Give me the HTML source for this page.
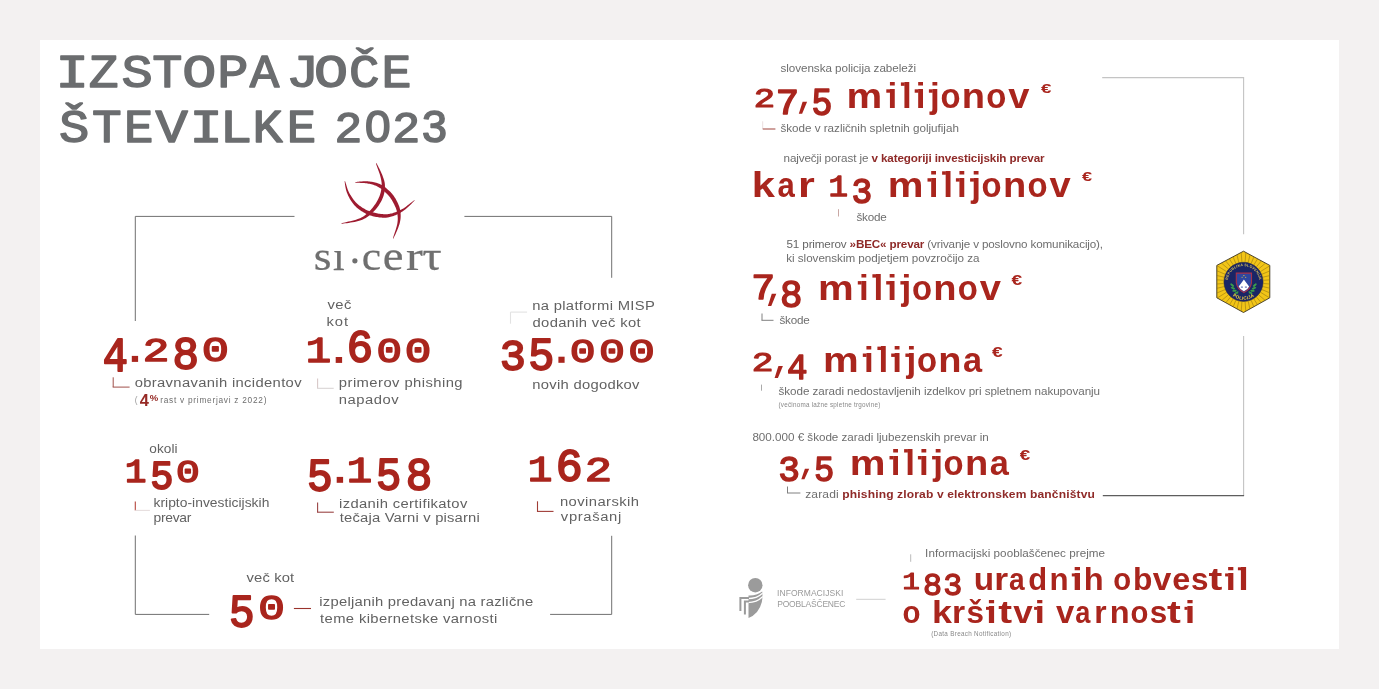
<!DOCTYPE html>
<html><head><meta charset="utf-8"><title>Izstopajoče številke 2023</title>
<style>
html,body{margin:0;padding:0;background:#f3f1f1;}
body{width:1379px;height:689px;overflow:hidden;font-family:"Liberation Sans",sans-serif;}
svg{display:block;}
#wrap{width:1379px;height:689px;will-change:transform;transform:translateZ(0);}
text{white-space:pre;}
</style></head><body>
<div id="wrap"><svg width="1379" height="689" viewBox="0 0 1379 689">
<rect x="0" y="0" width="1379" height="689" fill="#f3f1f1"/>
<rect x="40" y="40" width="1299" height="609" fill="#ffffff"/>
<text stroke="#6b6d6f" stroke-width="1.4" stroke-linejoin="round" transform="matrix(1.2039 0 0 1 55.40 86.70)" font-family="Liberation Mono" font-weight="normal" font-size="46.3" fill="#6b6d6f">I</text>
<text stroke="#6b6d6f" stroke-width="1.4" stroke-linejoin="round" transform="matrix(1.0711 0 0 1 88.63 86.70)" font-family="Liberation Mono" font-weight="normal" font-size="46.3" fill="#6b6d6f">Z</text>
<text stroke="#6b6d6f" stroke-width="1.4" stroke-linejoin="round" transform="matrix(1.1259 0 0 1 121.39 86.70)" font-family="Liberation Mono" font-weight="normal" font-size="46.3" fill="#6b6d6f">S</text>
<text stroke="#6b6d6f" stroke-width="1.4" stroke-linejoin="round" transform="matrix(1.0853 0 0 1 152.34 86.70)" font-family="Liberation Mono" font-weight="normal" font-size="46.3" fill="#6b6d6f">T</text>
<text stroke="#6b6d6f" stroke-width="1.4" stroke-linejoin="round" transform="matrix(1.2268 0 0 1 182.37 86.70)" font-family="Liberation Mono" font-weight="normal" font-size="46.3" fill="#6b6d6f">O</text>
<text stroke="#6b6d6f" stroke-width="1.4" stroke-linejoin="round" transform="matrix(1.1232 0 0 1 217.29 86.70)" font-family="Liberation Mono" font-weight="normal" font-size="46.3" fill="#6b6d6f">P</text>
<text stroke="#6b6d6f" stroke-width="1.4" stroke-linejoin="round" transform="matrix(1.0626 0 0 1 249.80 86.70)" font-family="Liberation Mono" font-weight="normal" font-size="46.3" fill="#6b6d6f">A</text>
<text stroke="#6b6d6f" stroke-width="1.4" stroke-linejoin="round" transform="matrix(1.2268 0 0 1 313.97 86.70)" font-family="Liberation Mono" font-weight="normal" font-size="46.3" fill="#6b6d6f">O</text>
<text stroke="#6b6d6f" stroke-width="1.4" stroke-linejoin="round" transform="matrix(1.1005 0 0 1 349.09 86.70)" font-family="Liberation Mono" font-weight="normal" font-size="46.3" fill="#6b6d6f">Č</text>
<text stroke="#6b6d6f" stroke-width="1.4" stroke-linejoin="round" transform="matrix(1.0782 0 0 1 381.45 86.70)" font-family="Liberation Mono" font-weight="normal" font-size="46.3" fill="#6b6d6f">E</text>
<text stroke="#6b6d6f" stroke-width="2.6" stroke-linejoin="round" transform="matrix(0.5632 0 0 0.4557 285.77 87.20)" font-family="Liberation Mono" font-weight="normal" font-size="100" fill="#6b6d6f">J</text>
<text stroke="#6b6d6f" stroke-width="1.4" stroke-linejoin="round" transform="matrix(1.0921 0 0 1 58.95 141.90)" font-family="Liberation Mono" font-weight="normal" font-size="46.3" fill="#6b6d6f">Š</text>
<text stroke="#6b6d6f" stroke-width="1.4" stroke-linejoin="round" transform="matrix(1.0688 0 0 1 92.06 141.90)" font-family="Liberation Mono" font-weight="normal" font-size="46.3" fill="#6b6d6f">T</text>
<text stroke="#6b6d6f" stroke-width="1.4" stroke-linejoin="round" transform="matrix(1.0598 0 0 1 124.02 141.90)" font-family="Liberation Mono" font-weight="normal" font-size="46.3" fill="#6b6d6f">E</text>
<text stroke="#6b6d6f" stroke-width="1.4" stroke-linejoin="round" transform="matrix(1.1644 0 0 1 155.44 141.90)" font-family="Liberation Mono" font-weight="normal" font-size="46.3" fill="#6b6d6f">V</text>
<text stroke="#6b6d6f" stroke-width="1.4" stroke-linejoin="round" transform="matrix(1.1985 0 0 1 189.53 141.90)" font-family="Liberation Mono" font-weight="normal" font-size="46.3" fill="#6b6d6f">I</text>
<text stroke="#6b6d6f" stroke-width="1.4" stroke-linejoin="round" transform="matrix(1.1686 0 0 1 219.74 141.90)" font-family="Liberation Mono" font-weight="normal" font-size="46.3" fill="#6b6d6f">L</text>
<text stroke="#6b6d6f" stroke-width="1.4" stroke-linejoin="round" transform="matrix(1.0840 0 0 1 252.43 141.90)" font-family="Liberation Mono" font-weight="normal" font-size="46.3" fill="#6b6d6f">K</text>
<text stroke="#6b6d6f" stroke-width="1.4" stroke-linejoin="round" transform="matrix(1.0598 0 0 1 286.72 141.90)" font-family="Liberation Mono" font-weight="normal" font-size="46.3" fill="#6b6d6f">E</text>
<text stroke="#6b6d6f" stroke-width="3.4" stroke-linejoin="round" transform="matrix(0.4632 0 0 0.4297 335.57 141.90)" font-family="Liberation Sans" font-weight="normal" font-size="100" fill="#6b6d6f">2</text>
<text stroke="#6b6d6f" stroke-width="3.4" stroke-linejoin="round" transform="matrix(0.4602 0 0 0.4364 364.90 141.97)" font-family="Liberation Sans" font-weight="normal" font-size="100" fill="#6b6d6f">0</text>
<text stroke="#6b6d6f" stroke-width="3.4" stroke-linejoin="round" transform="matrix(0.4675 0 0 0.4297 393.25 141.90)" font-family="Liberation Sans" font-weight="normal" font-size="100" fill="#6b6d6f">2</text>
<text stroke="#6b6d6f" stroke-width="3.4" stroke-linejoin="round" transform="matrix(0.4493 0 0 0.4364 422.09 141.97)" font-family="Liberation Sans" font-weight="normal" font-size="100" fill="#6b6d6f">3</text>
<polyline points="135.3,321 135.3,216.4 294.5,216.4" fill="none" stroke="#707070" stroke-width="1.0"/>
<polyline points="464.4,216.4 611.7,216.4 611.7,277.8" fill="none" stroke="#707070" stroke-width="1.0"/>
<polyline points="135.3,535.5 135.3,614.4 209.2,614.4" fill="none" stroke="#707070" stroke-width="1.0"/>
<polyline points="550.1,614.4 611.7,614.4 611.7,535.8" fill="none" stroke="#707070" stroke-width="1.0"/>
<path d="M375.96,163.16 L376.10,163.84 L376.36,164.68 L376.69,165.65 L377.08,166.74 L377.51,167.91 L377.96,169.14 L378.43,170.40 L378.88,171.67 L379.32,172.92 L379.71,174.11 L380.05,175.23 L380.33,176.24 L380.56,177.19 L380.78,178.11 L380.97,178.98 L381.15,179.83 L381.31,180.65 L381.43,181.45 L381.54,182.24 L381.62,183.02 L381.67,183.80 L381.69,184.60 L381.68,185.41 L381.64,186.25 L381.57,187.13 L381.47,188.03 L381.35,188.95 L381.21,189.87 L381.04,190.80 L380.84,191.74 L380.61,192.68 L380.36,193.62 L380.07,194.56 L379.75,195.50 L379.39,196.43 L379.01,197.36 L378.58,198.30 L378.11,199.26 L377.60,200.23 L377.05,201.21 L376.48,202.20 L375.87,203.18 L375.23,204.16 L374.56,205.12 L373.88,206.07 L373.16,206.99 L372.43,207.89 L371.68,208.77 L370.90,209.64 L370.11,210.51 L369.32,211.36 L368.52,212.19 L367.69,213.00 L366.84,213.79 L365.94,214.56 L365.01,215.30 L364.02,216.01 L362.97,216.69 L361.85,217.35 L360.66,217.96 L359.31,218.55 L357.75,219.12 L356.01,219.67 L354.16,220.19 L352.25,220.69 L350.32,221.16 L348.43,221.60 L346.63,222.01 L344.96,222.40 L343.48,222.77 L342.23,223.11 L341.27,223.45 L341.33,223.75 L342.34,223.68 L343.62,223.54 L345.13,223.35 L346.83,223.13 L348.67,222.88 L350.60,222.58 L352.58,222.25 L354.56,221.88 L356.48,221.48 L358.32,221.04 L360.02,220.56 L361.54,220.04 L362.90,219.47 L364.18,218.86 L365.39,218.20 L366.54,217.50 L367.63,216.77 L368.66,216.01 L369.65,215.22 L370.60,214.41 L371.52,213.58 L372.40,212.74 L373.27,211.89 L374.12,211.03 L374.98,210.13 L375.82,209.19 L376.63,208.21 L377.41,207.21 L378.16,206.19 L378.88,205.16 L379.57,204.11 L380.21,203.05 L380.82,202.00 L381.39,200.94 L381.91,199.89 L382.39,198.84 L382.83,197.79 L383.22,196.73 L383.57,195.67 L383.88,194.61 L384.15,193.54 L384.37,192.48 L384.56,191.43 L384.71,190.39 L384.82,189.35 L384.90,188.34 L384.95,187.34 L384.96,186.35 L384.94,185.38 L384.88,184.43 L384.78,183.51 L384.64,182.62 L384.46,181.74 L384.25,180.87 L384.02,180.01 L383.75,179.15 L383.46,178.29 L383.15,177.41 L382.82,176.50 L382.47,175.56 L382.07,174.53 L381.59,173.40 L381.06,172.22 L380.49,171.00 L379.90,169.78 L379.30,168.56 L378.70,167.39 L378.12,166.28 L377.57,165.26 L377.07,164.36 L376.63,163.61 L376.24,163.04Z" fill="#9e1b30"/>
<path d="M344.65,181.14 L344.68,181.73 L344.75,182.46 L344.85,183.32 L344.98,184.27 L345.14,185.32 L345.32,186.42 L345.54,187.57 L345.78,188.75 L346.07,189.93 L346.39,191.10 L346.76,192.25 L347.17,193.33 L347.62,194.37 L348.09,195.42 L348.61,196.49 L349.16,197.56 L349.74,198.64 L350.36,199.71 L351.02,200.77 L351.71,201.81 L352.43,202.83 L353.19,203.82 L353.98,204.78 L354.81,205.69 L355.67,206.57 L356.57,207.41 L357.52,208.23 L358.49,209.02 L359.50,209.78 L360.53,210.51 L361.58,211.21 L362.65,211.87 L363.72,212.50 L364.80,213.09 L365.88,213.64 L366.96,214.16 L368.07,214.64 L369.21,215.08 L370.36,215.47 L371.53,215.83 L372.70,216.15 L373.87,216.43 L375.03,216.69 L376.17,216.90 L377.30,217.09 L378.40,217.26 L379.47,217.39 L380.50,217.50 L381.49,217.59 L382.46,217.66 L383.39,217.70 L384.31,217.71 L385.22,217.69 L386.12,217.64 L387.01,217.55 L387.91,217.43 L388.81,217.28 L389.72,217.09 L390.64,216.86 L391.59,216.60 L392.56,216.29 L393.53,215.96 L394.51,215.59 L395.50,215.19 L396.50,214.75 L397.50,214.28 L398.50,213.78 L399.50,213.24 L400.49,212.67 L401.49,212.07 L402.47,211.43 L403.46,210.76 L404.47,210.00 L405.55,209.14 L406.65,208.21 L407.77,207.22 L408.88,206.20 L409.97,205.17 L411.01,204.17 L411.98,203.20 L412.87,202.30 L413.66,201.49 L414.31,200.79 L414.80,200.21 L414.60,199.99 L413.95,200.38 L413.17,200.95 L412.28,201.64 L411.29,202.42 L410.22,203.28 L409.10,204.18 L407.94,205.09 L406.76,206.00 L405.59,206.88 L404.45,207.69 L403.36,208.42 L402.34,209.04 L401.36,209.59 L400.37,210.11 L399.39,210.59 L398.40,211.05 L397.42,211.48 L396.44,211.87 L395.47,212.24 L394.51,212.57 L393.56,212.87 L392.63,213.15 L391.71,213.39 L390.81,213.60 L389.94,213.78 L389.10,213.93 L388.29,214.04 L387.50,214.13 L386.72,214.18 L385.95,214.21 L385.16,214.22 L384.37,214.20 L383.55,214.15 L382.71,214.09 L381.82,214.00 L380.90,213.90 L379.93,213.77 L378.93,213.63 L377.89,213.46 L376.84,213.27 L375.77,213.06 L374.70,212.83 L373.62,212.57 L372.55,212.28 L371.48,211.97 L370.44,211.62 L369.43,211.25 L368.44,210.84 L367.44,210.39 L366.44,209.91 L365.42,209.39 L364.41,208.84 L363.41,208.26 L362.42,207.65 L361.44,207.02 L360.49,206.36 L359.56,205.67 L358.67,204.97 L357.81,204.25 L356.99,203.51 L356.21,202.74 L355.44,201.92 L354.69,201.06 L353.97,200.16 L353.26,199.23 L352.57,198.28 L351.91,197.31 L351.28,196.33 L350.67,195.35 L350.09,194.38 L349.54,193.41 L349.03,192.47 L348.55,191.52 L348.11,190.50 L347.69,189.43 L347.30,188.32 L346.94,187.21 L346.61,186.12 L346.29,185.06 L346.00,184.05 L345.72,183.13 L345.46,182.31 L345.21,181.61 L344.95,181.06Z" fill="#9e1b30"/>
<path d="M355.20,182.55 L355.81,182.67 L356.58,182.74 L357.49,182.78 L358.49,182.82 L359.59,182.85 L360.74,182.88 L361.93,182.93 L363.13,182.98 L364.32,183.06 L365.47,183.16 L366.56,183.30 L367.57,183.46 L368.54,183.66 L369.52,183.87 L370.49,184.09 L371.45,184.32 L372.39,184.58 L373.33,184.86 L374.25,185.16 L375.15,185.49 L376.05,185.85 L376.92,186.24 L377.79,186.67 L378.64,187.14 L379.49,187.65 L380.35,188.22 L381.23,188.84 L382.10,189.49 L382.97,190.18 L383.83,190.90 L384.67,191.64 L385.50,192.40 L386.29,193.17 L387.06,193.94 L387.79,194.72 L388.47,195.48 L389.11,196.23 L389.73,197.02 L390.32,197.83 L390.89,198.66 L391.45,199.51 L391.97,200.36 L392.48,201.22 L392.96,202.08 L393.42,202.94 L393.86,203.78 L394.27,204.60 L394.66,205.40 L395.02,206.17 L395.35,206.91 L395.66,207.62 L395.93,208.32 L396.18,209.01 L396.41,209.69 L396.62,210.37 L396.81,211.06 L396.98,211.76 L397.13,212.47 L397.26,213.20 L397.38,213.96 L397.48,214.74 L397.57,215.51 L397.65,216.27 L397.71,217.04 L397.74,217.81 L397.76,218.60 L397.75,219.41 L397.71,220.24 L397.65,221.11 L397.55,222.01 L397.42,222.96 L397.26,223.94 L397.03,225.03 L396.72,226.25 L396.35,227.57 L395.93,228.96 L395.48,230.38 L395.01,231.80 L394.55,233.19 L394.11,234.52 L393.71,235.75 L393.37,236.85 L393.10,237.79 L392.96,238.55 L393.24,238.65 L393.63,237.99 L394.07,237.12 L394.57,236.09 L395.12,234.92 L395.70,233.64 L396.30,232.30 L396.90,230.91 L397.49,229.52 L398.04,228.15 L398.54,226.83 L398.98,225.58 L399.34,224.46 L399.63,223.42 L399.88,222.43 L400.09,221.47 L400.27,220.54 L400.41,219.64 L400.52,218.75 L400.60,217.88 L400.65,217.02 L400.68,216.17 L400.68,215.33 L400.66,214.49 L400.62,213.64 L400.56,212.79 L400.48,211.95 L400.37,211.13 L400.24,210.32 L400.08,209.51 L399.89,208.71 L399.67,207.90 L399.42,207.10 L399.15,206.29 L398.84,205.47 L398.50,204.64 L398.14,203.80 L397.74,202.93 L397.32,202.05 L396.86,201.14 L396.38,200.22 L395.86,199.29 L395.31,198.35 L394.73,197.41 L394.12,196.48 L393.47,195.56 L392.79,194.66 L392.07,193.77 L391.33,192.92 L390.55,192.10 L389.73,191.28 L388.87,190.47 L387.99,189.66 L387.07,188.88 L386.12,188.11 L385.16,187.37 L384.17,186.66 L383.18,185.99 L382.18,185.36 L381.17,184.79 L380.16,184.26 L379.15,183.79 L378.13,183.38 L377.11,183.01 L376.08,182.70 L375.06,182.42 L374.02,182.18 L372.99,181.98 L371.96,181.80 L370.93,181.65 L369.90,181.53 L368.87,181.43 L367.83,181.34 L366.74,181.27 L365.57,181.26 L364.36,181.28 L363.13,181.33 L361.90,181.41 L360.70,181.50 L359.54,181.61 L358.45,181.74 L357.44,181.86 L356.55,181.99 L355.80,182.11 L355.20,182.25Z" fill="#9e1b30"/>
<text stroke="#6f6f6f" stroke-width="0.25" transform="matrix(1.0836 0 0 1 313.73 270.00)" font-family="Liberation Serif" font-weight="normal" font-size="42" fill="#6f6f6f">s</text>
<text stroke="#6f6f6f" stroke-width="0.25" transform="matrix(1.0000 0 0 1 332.92 270.00)" font-family="Liberation Serif" font-weight="normal" font-size="42" fill="#6f6f6f">ı</text>
<text stroke="#6f6f6f" stroke-width="0.25" transform="matrix(1.0349 0 0 1 361.64 270.00)" font-family="Liberation Serif" font-weight="normal" font-size="42" fill="#6f6f6f">c</text>
<text stroke="#6f6f6f" stroke-width="0.25" transform="matrix(1.1129 0 0 1 382.87 270.00)" font-family="Liberation Serif" font-weight="normal" font-size="42" fill="#6f6f6f">e</text>
<text stroke="#6f6f6f" stroke-width="0.25" transform="matrix(1.1975 0 0 1 405.99 270.00)" font-family="Liberation Serif" font-weight="normal" font-size="42" fill="#6f6f6f">r</text>
<text stroke="#6f6f6f" stroke-width="0.25" transform="matrix(1.1509 0 0 1 422.24 270.00)" font-family="Liberation Serif" font-weight="normal" font-size="42" fill="#6f6f6f">τ</text>
<circle cx="354.9" cy="260.8" r="2.6" fill="#6f6f6f"/>
<text stroke="#a9251d" stroke-width="4.2" stroke-linejoin="round" transform="matrix(0.4207 0 0 0.4768 102.83 370.70)" font-family="Liberation Mono" font-weight="normal" font-size="100" fill="#a9251d">4</text>
<rect x="131.80" y="355.90" width="6.30" height="6.00" fill="#a9251d"/>
<text stroke="#a9251d" stroke-width="4.2" stroke-linejoin="round" transform="matrix(0.4434 0 0 0.3336 142.67 361.00)" font-family="Liberation Mono" font-weight="normal" font-size="100" fill="#a9251d">2</text>
<text stroke="#a9251d" stroke-width="4.2" stroke-linejoin="round" transform="matrix(0.4411 0 0 0.4590 172.38 369.25)" font-family="Liberation Mono" font-weight="normal" font-size="100" fill="#a9251d">8</text>
<text stroke="#a9251d" stroke-width="4.2" stroke-linejoin="round" transform="matrix(0.4540 0 0 0.3461 201.83 361.36)" font-family="Liberation Mono" font-weight="normal" font-size="100" fill="#a9251d">0</text>
<line x1="113.2" y1="377.3" x2="113.2" y2="387.1" stroke="#a0504a" stroke-width="1.0"/>
<line x1="112.7" y1="387.1" x2="129.6" y2="387.1" stroke="#a0504a" stroke-width="1.0"/>
<text transform="matrix(1.0800 0 0 1 134.68 386.70)" font-family="Liberation Sans" font-weight="normal" font-size="13.7" fill="#626262" letter-spacing="0.311">obravnavanih incidentov</text>
<text transform="matrix(1.0000 0 0 1 134.79 403.00)" font-family="Liberation Sans" font-weight="normal" font-size="8.3" fill="#999" letter-spacing="0.000">(</text>
<text transform="matrix(0.1643 0 0 0.1584 139.75 406.30)" font-family="Liberation Sans" font-weight="bold" font-size="100" fill="#962a25">4</text>
<text transform="matrix(0.0955 0 0 0.0867 149.66 400.73)" font-family="Liberation Sans" font-weight="bold" font-size="100" fill="#962a25">%</text>
<text transform="matrix(1.0000 0 0 1 160.25 403.00)" font-family="Liberation Sans" font-weight="normal" font-size="8.3" fill="#6e6e6e" letter-spacing="0.734">rast v primerjavi z 2022)</text>
<text transform="matrix(1.0800 0 0 1 327.55 308.90)" font-family="Liberation Sans" font-weight="normal" font-size="13.7" fill="#626262" letter-spacing="0.378">več</text>
<text transform="matrix(1.0800 0 0 1 326.60 325.70)" font-family="Liberation Sans" font-weight="normal" font-size="13.7" fill="#626262" letter-spacing="0.772">kot</text>
<text stroke="#a9251d" stroke-width="4.2" stroke-linejoin="round" transform="matrix(0.4233 0 0 0.3629 305.64 362.00)" font-family="Liberation Mono" font-weight="normal" font-size="100" fill="#a9251d">1</text>
<rect x="335.70" y="357.00" width="6.40" height="5.90" fill="#a9251d"/>
<text stroke="#a9251d" stroke-width="4.2" stroke-linejoin="round" transform="matrix(0.4379 0 0 0.4633 346.68 362.15)" font-family="Liberation Mono" font-weight="normal" font-size="100" fill="#a9251d">6</text>
<text stroke="#a9251d" stroke-width="4.2" stroke-linejoin="round" transform="matrix(0.4248 0 0 0.3461 376.54 362.26)" font-family="Liberation Mono" font-weight="normal" font-size="100" fill="#a9251d">0</text>
<text stroke="#a9251d" stroke-width="4.2" stroke-linejoin="round" transform="matrix(0.4434 0 0 0.3461 404.87 362.26)" font-family="Liberation Mono" font-weight="normal" font-size="100" fill="#a9251d">0</text>
<line x1="317.6" y1="378.5" x2="317.6" y2="388.3" stroke="#d8c8c8" stroke-width="1.1"/>
<line x1="317.05" y1="388.3" x2="333.7" y2="388.3" stroke="#d8d4d4" stroke-width="1.1"/>
<text transform="matrix(1.0800 0 0 1 338.85 387.30)" font-family="Liberation Sans" font-weight="normal" font-size="13.7" fill="#626262" letter-spacing="0.407">primerov phishing</text>
<text transform="matrix(1.0800 0 0 1 338.82 404.30)" font-family="Liberation Sans" font-weight="normal" font-size="13.7" fill="#626262" letter-spacing="0.488">napadov</text>
<line x1="510.5" y1="323.7" x2="510.5" y2="312.1" stroke="#e2e2e2" stroke-width="1.1"/>
<line x1="510.5" y1="312.1" x2="527.1" y2="312.1" stroke="#e2e2e2" stroke-width="1.1"/>
<text transform="matrix(1.0800 0 0 1 532.22 309.90)" font-family="Liberation Sans" font-weight="normal" font-size="13.7" fill="#626262" letter-spacing="0.294">na platformi MISP</text>
<text transform="matrix(1.0800 0 0 1 532.58 326.70)" font-family="Liberation Sans" font-weight="normal" font-size="13.7" fill="#626262" letter-spacing="0.290">dodanih več kot</text>
<text stroke="#a9251d" stroke-width="4.2" stroke-linejoin="round" transform="matrix(0.4346 0 0 0.4393 499.65 369.77)" font-family="Liberation Mono" font-weight="normal" font-size="100" fill="#a9251d">3</text>
<text stroke="#a9251d" stroke-width="4.2" stroke-linejoin="round" transform="matrix(0.4346 0 0 0.4542 528.26 370.36)" font-family="Liberation Mono" font-weight="normal" font-size="100" fill="#a9251d">5</text>
<rect x="558.40" y="356.70" width="6.20" height="6.10" fill="#a9251d"/>
<text stroke="#a9251d" stroke-width="4.2" stroke-linejoin="round" transform="matrix(0.4309 0 0 0.3404 569.72 361.67)" font-family="Liberation Mono" font-weight="normal" font-size="100" fill="#a9251d">0</text>
<text stroke="#a9251d" stroke-width="4.2" stroke-linejoin="round" transform="matrix(0.4329 0 0 0.3404 599.01 361.67)" font-family="Liberation Mono" font-weight="normal" font-size="100" fill="#a9251d">0</text>
<text stroke="#a9251d" stroke-width="4.2" stroke-linejoin="round" transform="matrix(0.4434 0 0 0.3404 628.17 361.67)" font-family="Liberation Mono" font-weight="normal" font-size="100" fill="#a9251d">0</text>
<text transform="matrix(1.0800 0 0 1 532.22 388.70)" font-family="Liberation Sans" font-weight="normal" font-size="13.7" fill="#626262" letter-spacing="0.262">novih dogodkov</text>
<text transform="matrix(1.0800 0 0 1 149.33 452.70)" font-family="Liberation Sans" font-weight="normal" font-size="12.6" fill="#626262" letter-spacing="0.070">okoli</text>
<text stroke="#a9251d" stroke-width="4.8" stroke-linejoin="round" transform="matrix(0.3566 0 0 0.3265 125.02 482.20)" font-family="Liberation Mono" font-weight="normal" font-size="100" fill="#a9251d">1</text>
<text stroke="#a9251d" stroke-width="4.8" stroke-linejoin="round" transform="matrix(0.3860 0 0 0.4012 150.15 489.31)" font-family="Liberation Mono" font-weight="normal" font-size="100" fill="#a9251d">5</text>
<text stroke="#a9251d" stroke-width="4.8" stroke-linejoin="round" transform="matrix(0.3955 0 0 0.3066 175.96 482.10)" font-family="Liberation Mono" font-weight="normal" font-size="100" fill="#a9251d">0</text>
<line x1="135.3" y1="501.6" x2="135.3" y2="510.4" stroke="#b5453c" stroke-width="1.1"/>
<line x1="135.3" y1="510.4" x2="149.9" y2="510.4" stroke="#e6dede" stroke-width="1.1"/>
<text transform="matrix(1.0800 0 0 1 153.47 506.70)" font-family="Liberation Sans" font-weight="normal" font-size="12.8" fill="#626262" letter-spacing="0.032">kripto-investicijskih</text>
<text transform="matrix(1.0800 0 0 1 153.51 521.70)" font-family="Liberation Sans" font-weight="normal" font-size="12.8" fill="#626262" letter-spacing="-0.234">prevar</text>
<text stroke="#a9251d" stroke-width="4.2" stroke-linejoin="round" transform="matrix(0.4282 0 0 0.4628 306.99 490.75)" font-family="Liberation Mono" font-weight="normal" font-size="100" fill="#a9251d">5</text>
<rect x="336.70" y="476.90" width="6.40" height="5.90" fill="#a9251d"/>
<text stroke="#a9251d" stroke-width="4.2" stroke-linejoin="round" transform="matrix(0.4233 0 0 0.3643 346.74 481.90)" font-family="Liberation Mono" font-weight="normal" font-size="100" fill="#a9251d">1</text>
<text stroke="#a9251d" stroke-width="4.2" stroke-linejoin="round" transform="matrix(0.4219 0 0 0.4585 376.01 490.45)" font-family="Liberation Mono" font-weight="normal" font-size="100" fill="#a9251d">5</text>
<text stroke="#a9251d" stroke-width="4.2" stroke-linejoin="round" transform="matrix(0.4411 0 0 0.4633 405.68 490.25)" font-family="Liberation Mono" font-weight="normal" font-size="100" fill="#a9251d">8</text>
<line x1="317.6" y1="502.4" x2="317.6" y2="512.2" stroke="#9a4444" stroke-width="1.1"/>
<line x1="317.05" y1="512.2" x2="333.8" y2="512.2" stroke="#9a4444" stroke-width="1.1"/>
<text transform="matrix(1.0800 0 0 1 339.01 507.60)" font-family="Liberation Sans" font-weight="normal" font-size="13.7" fill="#626262" letter-spacing="0.323">izdanih certifikatov</text>
<text transform="matrix(1.0800 0 0 1 339.78 522.40)" font-family="Liberation Sans" font-weight="normal" font-size="13.7" fill="#626262" letter-spacing="0.171">tečaja Varni v pisarni</text>
<text stroke="#a9251d" stroke-width="4.2" stroke-linejoin="round" transform="matrix(0.4108 0 0 0.3629 527.73 481.00)" font-family="Liberation Mono" font-weight="normal" font-size="100" fill="#a9251d">1</text>
<text stroke="#a9251d" stroke-width="4.2" stroke-linejoin="round" transform="matrix(0.4485 0 0 0.4661 555.82 480.74)" font-family="Liberation Mono" font-weight="normal" font-size="100" fill="#a9251d">6</text>
<text stroke="#a9251d" stroke-width="4.2" stroke-linejoin="round" transform="matrix(0.4545 0 0 0.3422 584.71 481.00)" font-family="Liberation Mono" font-weight="normal" font-size="100" fill="#a9251d">2</text>
<line x1="537.5" y1="501.3" x2="537.5" y2="511.4" stroke="#a03c36" stroke-width="1.1"/>
<line x1="536.95" y1="511.4" x2="553.5" y2="511.4" stroke="#a03c36" stroke-width="1.1"/>
<text transform="matrix(1.0800 0 0 1 559.92 506.30)" font-family="Liberation Sans" font-weight="normal" font-size="13.7" fill="#626262" letter-spacing="0.398">novinarskih</text>
<text transform="matrix(1.0800 0 0 1 560.85 521.20)" font-family="Liberation Sans" font-weight="normal" font-size="13.7" fill="#626262" letter-spacing="0.585">vprašanj</text>
<text transform="matrix(1.0800 0 0 1 246.55 582.00)" font-family="Liberation Sans" font-weight="normal" font-size="13.7" fill="#626262" letter-spacing="0.106">več kot</text>
<text stroke="#a9251d" stroke-width="4.2" stroke-linejoin="round" transform="matrix(0.4260 0 0 0.4628 228.99 626.75)" font-family="Liberation Mono" font-weight="normal" font-size="100" fill="#a9251d">5</text>
<text stroke="#a9251d" stroke-width="4.2" stroke-linejoin="round" transform="matrix(0.4434 0 0 0.3488 258.37 618.56)" font-family="Liberation Mono" font-weight="normal" font-size="100" fill="#a9251d">0</text>
<line x1="293.9" y1="608.5" x2="311" y2="608.5" stroke="#9a332c" stroke-width="1.1"/>
<text transform="matrix(1.0800 0 0 1 319.31 605.70)" font-family="Liberation Sans" font-weight="normal" font-size="13.7" fill="#626262" letter-spacing="0.227">izpeljanih predavanj na različne</text>
<text transform="matrix(1.0800 0 0 1 320.08 623.00)" font-family="Liberation Sans" font-weight="normal" font-size="13.7" fill="#626262" letter-spacing="0.337">teme kibernetske varnosti</text>
<text transform="matrix(1.0800 0 0 1 780.38 72.00)" font-family="Liberation Sans" font-weight="normal" font-size="10.8" fill="#6e6e6e" letter-spacing="-0.035">slovenska policija zabeleži</text>
<text stroke="#a9251d" stroke-width="4.2" stroke-linejoin="round" transform="matrix(0.3555 0 0 0.2707 753.76 107.15)" font-family="Liberation Mono" font-weight="normal" font-size="100" fill="#a9251d">2</text>
<text stroke="#a9251d" stroke-width="4.2" stroke-linejoin="round" transform="matrix(0.3893 0 0 0.3678 775.85 114.25)" font-family="Liberation Mono" font-weight="normal" font-size="100" fill="#a9251d">7</text>
<text stroke="#a9251d" stroke-width="4.2" stroke-linejoin="round" transform="matrix(0.3480 0 0 0.3797 811.46 114.78)" font-family="Liberation Mono" font-weight="normal" font-size="100" fill="#a9251d">5</text>
<polygon points="802.62,101.70 807.10,101.70 802.12,113.80 798.80,113.80" fill="#a9251d"/>
<text transform="matrix(1.1485 0 0 1 846.45 107.80)" font-family="Liberation Sans" font-weight="bold" font-size="35" fill="#a9251d">m</text>
<text transform="matrix(1.0000 0 0 1 887.46 107.80)" font-family="Liberation Sans" font-weight="bold" font-size="35" fill="#a9251d">i</text>
<text transform="matrix(1.0000 0 0 1 902.06 107.80)" font-family="Liberation Sans" font-weight="bold" font-size="35" fill="#a9251d">l</text>
<text transform="matrix(1.0000 0 0 1 915.86 107.80)" font-family="Liberation Sans" font-weight="bold" font-size="35" fill="#a9251d">i</text>
<text transform="matrix(1.0000 0 0 1 930.04 107.80)" font-family="Liberation Sans" font-weight="bold" font-size="35" fill="#a9251d">j</text>
<rect x="886.30" y="89.32" width="3.80" height="3.40" fill="#a9251d"/>
<rect x="900.90" y="82.42" width="3.80" height="3.40" fill="#a9251d"/>
<rect x="914.70" y="89.32" width="3.80" height="3.40" fill="#a9251d"/>
<rect x="928.90" y="89.32" width="3.80" height="3.40" fill="#a9251d"/>
<text transform="matrix(0.9386 0 0 1 940.42 107.80)" font-family="Liberation Sans" font-weight="bold" font-size="35" fill="#a9251d">o</text>
<text transform="matrix(1.0886 0 0 1 961.69 107.80)" font-family="Liberation Sans" font-weight="bold" font-size="35" fill="#a9251d">n</text>
<text transform="matrix(0.9386 0 0 1 986.32 107.80)" font-family="Liberation Sans" font-weight="bold" font-size="35" fill="#a9251d">o</text>
<text transform="matrix(1.0900 0 0 1 1008.25 107.80)" font-family="Liberation Sans" font-weight="bold" font-size="35" fill="#a9251d">v</text>
<text transform="matrix(0.1874 0 0 0.1342 1040.91 92.67)" font-family="Liberation Sans" font-weight="bold" font-size="100" fill="#a9251d">€</text>
<line x1="762.7" y1="121.3" x2="762.7" y2="129" stroke="#eadede" stroke-width="1.0"/>
<line x1="762.7" y1="129" x2="775.4" y2="129" stroke="#a8554e" stroke-width="1.1"/>
<text transform="matrix(1.0800 0 0 1 780.38 132.00)" font-family="Liberation Sans" font-weight="normal" font-size="10.8" fill="#6e6e6e" letter-spacing="-0.009">škode v različnih spletnih goljufijah</text>
<text transform="matrix(1.0800 0 0 1 783.53 162.00)" font-size="10.8" letter-spacing="-0.106"><tspan font-family="Liberation Sans" font-weight="normal" fill="#6e6e6e">največji porast je </tspan><tspan font-family="Liberation Sans" font-weight="bold" fill="#8f2a28">v kategoriji investicijskih prevar</tspan></text>
<text transform="matrix(1.1902 0 0 1 751.79 196.80)" font-family="Liberation Sans" font-weight="bold" font-size="35" fill="#a9251d">k</text>
<text transform="matrix(0.8895 0 0 1 777.49 196.80)" font-family="Liberation Sans" font-weight="bold" font-size="35" fill="#a9251d">a</text>
<text transform="matrix(1.2333 0 0 1 798.05 196.80)" font-family="Liberation Sans" font-weight="bold" font-size="35" fill="#a9251d">r</text>
<text stroke="#a9251d" stroke-width="4.4" stroke-linejoin="round" transform="matrix(0.3254 0 0 0.2869 828.40 195.95)" font-family="Liberation Mono" font-weight="normal" font-size="100" fill="#a9251d">1</text>
<text stroke="#a9251d" stroke-width="4.4" stroke-linejoin="round" transform="matrix(0.3459 0 0 0.3672 851.53 203.49)" font-family="Liberation Mono" font-weight="normal" font-size="100" fill="#a9251d">3</text>
<text transform="matrix(1.1485 0 0 1 887.65 196.70)" font-family="Liberation Sans" font-weight="bold" font-size="35" fill="#a9251d">m</text>
<text transform="matrix(1.0000 0 0 1 928.66 196.70)" font-family="Liberation Sans" font-weight="bold" font-size="35" fill="#a9251d">i</text>
<text transform="matrix(1.0000 0 0 1 943.26 196.70)" font-family="Liberation Sans" font-weight="bold" font-size="35" fill="#a9251d">l</text>
<text transform="matrix(1.0000 0 0 1 957.06 196.70)" font-family="Liberation Sans" font-weight="bold" font-size="35" fill="#a9251d">i</text>
<text transform="matrix(1.0000 0 0 1 971.24 196.70)" font-family="Liberation Sans" font-weight="bold" font-size="35" fill="#a9251d">j</text>
<rect x="927.50" y="178.22" width="3.80" height="3.40" fill="#a9251d"/>
<rect x="942.10" y="171.32" width="3.80" height="3.40" fill="#a9251d"/>
<rect x="955.90" y="178.22" width="3.80" height="3.40" fill="#a9251d"/>
<rect x="970.10" y="178.22" width="3.80" height="3.40" fill="#a9251d"/>
<text transform="matrix(0.9386 0 0 1 981.62 196.70)" font-family="Liberation Sans" font-weight="bold" font-size="35" fill="#a9251d">o</text>
<text transform="matrix(1.0886 0 0 1 1002.89 196.70)" font-family="Liberation Sans" font-weight="bold" font-size="35" fill="#a9251d">n</text>
<text transform="matrix(0.9386 0 0 1 1027.52 196.70)" font-family="Liberation Sans" font-weight="bold" font-size="35" fill="#a9251d">o</text>
<text transform="matrix(1.0900 0 0 1 1049.45 196.70)" font-family="Liberation Sans" font-weight="bold" font-size="35" fill="#a9251d">v</text>
<text transform="matrix(0.1818 0 0 0.1328 1082.01 181.47)" font-family="Liberation Sans" font-weight="bold" font-size="100" fill="#a9251d">€</text>
<line x1="838.5" y1="209.2" x2="838.5" y2="216.5" stroke="#c9a8a4" stroke-width="1.0"/>
<text transform="matrix(1.0800 0 0 1 856.38 220.50)" font-family="Liberation Sans" font-weight="normal" font-size="10.8" fill="#6e6e6e" letter-spacing="-0.181">škode</text>
<text transform="matrix(1.0800 0 0 1 786.53 247.80)" font-size="10.8" letter-spacing="-0.137"><tspan font-family="Liberation Sans" font-weight="normal" fill="#666">51 primerov </tspan><tspan font-family="Liberation Sans" font-weight="bold" fill="#8f2a28">»BEC« prevar</tspan><tspan font-family="Liberation Sans" font-weight="normal" fill="#6e6e6e"> (vrivanje v poslovno komunikacijo),</tspan></text>
<text transform="matrix(1.0800 0 0 1 786.21 261.80)" font-family="Liberation Sans" font-weight="normal" font-size="10.8" fill="#6e6e6e" letter-spacing="-0.028">ki slovenskim podjetjem povzročijo za</text>
<text stroke="#a9251d" stroke-width="4.0" stroke-linejoin="round" transform="matrix(0.3981 0 0 0.3721 751.21 299.25)" font-family="Liberation Mono" font-weight="normal" font-size="100" fill="#a9251d">7</text>
<text stroke="#a9251d" stroke-width="4.0" stroke-linejoin="round" transform="matrix(0.3750 0 0 0.3856 780.02 306.87)" font-family="Liberation Mono" font-weight="normal" font-size="100" fill="#a9251d">8</text>
<polygon points="771.76,293.80 776.30,293.80 771.26,305.90 767.90,305.90" fill="#a9251d"/>
<text transform="matrix(1.1485 0 0 1 817.95 299.60)" font-family="Liberation Sans" font-weight="bold" font-size="35" fill="#a9251d">m</text>
<text transform="matrix(1.0000 0 0 1 858.96 299.60)" font-family="Liberation Sans" font-weight="bold" font-size="35" fill="#a9251d">i</text>
<text transform="matrix(1.0000 0 0 1 873.56 299.60)" font-family="Liberation Sans" font-weight="bold" font-size="35" fill="#a9251d">l</text>
<text transform="matrix(1.0000 0 0 1 887.36 299.60)" font-family="Liberation Sans" font-weight="bold" font-size="35" fill="#a9251d">i</text>
<text transform="matrix(1.0000 0 0 1 901.54 299.60)" font-family="Liberation Sans" font-weight="bold" font-size="35" fill="#a9251d">j</text>
<rect x="857.80" y="281.12" width="3.80" height="3.40" fill="#a9251d"/>
<rect x="872.40" y="274.23" width="3.80" height="3.40" fill="#a9251d"/>
<rect x="886.20" y="281.12" width="3.80" height="3.40" fill="#a9251d"/>
<rect x="900.40" y="281.12" width="3.80" height="3.40" fill="#a9251d"/>
<text transform="matrix(0.9386 0 0 1 911.92 299.60)" font-family="Liberation Sans" font-weight="bold" font-size="35" fill="#a9251d">o</text>
<text transform="matrix(1.0886 0 0 1 933.19 299.60)" font-family="Liberation Sans" font-weight="bold" font-size="35" fill="#a9251d">n</text>
<text transform="matrix(0.9386 0 0 1 957.82 299.60)" font-family="Liberation Sans" font-weight="bold" font-size="35" fill="#a9251d">o</text>
<text transform="matrix(1.0900 0 0 1 979.75 299.60)" font-family="Liberation Sans" font-weight="bold" font-size="35" fill="#a9251d">v</text>
<text transform="matrix(0.1911 0 0 0.1525 1011.41 285.25)" font-family="Liberation Sans" font-weight="bold" font-size="100" fill="#a9251d">€</text>
<line x1="762" y1="313.5" x2="762" y2="320.3" stroke="#808080" stroke-width="1.0"/>
<line x1="761.5" y1="320.3" x2="773.5" y2="320.3" stroke="#808080" stroke-width="1.0"/>
<text transform="matrix(1.0800 0 0 1 779.38 323.70)" font-family="Liberation Sans" font-weight="normal" font-size="10.8" fill="#6e6e6e" letter-spacing="-0.181">škode</text>
<text stroke="#a9251d" stroke-width="4.2" stroke-linejoin="round" transform="matrix(0.3621 0 0 0.2707 751.83 371.35)" font-family="Liberation Mono" font-weight="normal" font-size="100" fill="#a9251d">2</text>
<text stroke="#a9251d" stroke-width="4.2" stroke-linejoin="round" transform="matrix(0.3432 0 0 0.3779 787.06 378.85)" font-family="Liberation Mono" font-weight="normal" font-size="100" fill="#a9251d">4</text>
<polygon points="778.42,365.90 782.90,365.90 777.92,377.90 774.60,377.90" fill="#a9251d"/>
<text transform="matrix(1.1485 0 0 1 822.95 372.00)" font-family="Liberation Sans" font-weight="bold" font-size="35" fill="#a9251d">m</text>
<text transform="matrix(1.0000 0 0 1 863.96 372.00)" font-family="Liberation Sans" font-weight="bold" font-size="35" fill="#a9251d">i</text>
<text transform="matrix(1.0000 0 0 1 878.56 372.00)" font-family="Liberation Sans" font-weight="bold" font-size="35" fill="#a9251d">l</text>
<text transform="matrix(1.0000 0 0 1 892.36 372.00)" font-family="Liberation Sans" font-weight="bold" font-size="35" fill="#a9251d">i</text>
<text transform="matrix(1.0000 0 0 1 906.54 372.00)" font-family="Liberation Sans" font-weight="bold" font-size="35" fill="#a9251d">j</text>
<rect x="862.80" y="353.52" width="3.80" height="3.40" fill="#a9251d"/>
<rect x="877.40" y="346.62" width="3.80" height="3.40" fill="#a9251d"/>
<rect x="891.20" y="353.52" width="3.80" height="3.40" fill="#a9251d"/>
<rect x="905.40" y="353.52" width="3.80" height="3.40" fill="#a9251d"/>
<text transform="matrix(0.9386 0 0 1 916.92 372.00)" font-family="Liberation Sans" font-weight="bold" font-size="35" fill="#a9251d">o</text>
<text transform="matrix(1.0886 0 0 1 938.19 372.00)" font-family="Liberation Sans" font-weight="bold" font-size="35" fill="#a9251d">n</text>
<text transform="matrix(0.9806 0 0 1 963.09 372.00)" font-family="Liberation Sans" font-weight="bold" font-size="35" fill="#a9251d">a</text>
<text transform="matrix(0.1911 0 0 0.1441 992.11 356.56)" font-family="Liberation Sans" font-weight="bold" font-size="100" fill="#a9251d">€</text>
<line x1="761.5" y1="384.6" x2="761.5" y2="390.7" stroke="#aaa" stroke-width="1.0"/>
<text transform="matrix(1.0800 0 0 1 778.58 395.00)" font-family="Liberation Sans" font-weight="normal" font-size="10.8" fill="#6e6e6e" letter-spacing="-0.059">škode zaradi nedostavljenih izdelkov pri spletnem nakupovanju</text>
<text transform="matrix(1.0000 0 0 1 778.51 406.80)" font-family="Liberation Sans" font-weight="normal" font-size="6.3" fill="#888" letter-spacing="0.240">(večinoma lažne spletne trgovine)</text>
<text transform="matrix(1.0800 0 0 1 752.39 440.90)" font-family="Liberation Sans" font-weight="normal" font-size="10.8" fill="#6e6e6e" letter-spacing="-0.016">800.000 € škode zaradi ljubezenskih prevar in</text>
<text stroke="#a9251d" stroke-width="4.2" stroke-linejoin="round" transform="matrix(0.3627 0 0 0.3617 778.17 480.60)" font-family="Liberation Mono" font-weight="normal" font-size="100" fill="#a9251d">3</text>
<text stroke="#a9251d" stroke-width="4.2" stroke-linejoin="round" transform="matrix(0.3375 0 0 0.3611 814.00 480.60)" font-family="Liberation Mono" font-weight="normal" font-size="100" fill="#a9251d">5</text>
<polygon points="804.93,468.80 809.20,468.80 804.46,479.20 801.30,479.20" fill="#a9251d"/>
<text transform="matrix(1.1485 0 0 1 849.65 474.50)" font-family="Liberation Sans" font-weight="bold" font-size="35" fill="#a9251d">m</text>
<text transform="matrix(1.0000 0 0 1 890.66 474.50)" font-family="Liberation Sans" font-weight="bold" font-size="35" fill="#a9251d">i</text>
<text transform="matrix(1.0000 0 0 1 905.26 474.50)" font-family="Liberation Sans" font-weight="bold" font-size="35" fill="#a9251d">l</text>
<text transform="matrix(1.0000 0 0 1 919.06 474.50)" font-family="Liberation Sans" font-weight="bold" font-size="35" fill="#a9251d">i</text>
<text transform="matrix(1.0000 0 0 1 933.24 474.50)" font-family="Liberation Sans" font-weight="bold" font-size="35" fill="#a9251d">j</text>
<rect x="889.50" y="456.02" width="3.80" height="3.40" fill="#a9251d"/>
<rect x="904.10" y="449.12" width="3.80" height="3.40" fill="#a9251d"/>
<rect x="917.90" y="456.02" width="3.80" height="3.40" fill="#a9251d"/>
<rect x="932.10" y="456.02" width="3.80" height="3.40" fill="#a9251d"/>
<text transform="matrix(0.9386 0 0 1 943.62 474.50)" font-family="Liberation Sans" font-weight="bold" font-size="35" fill="#a9251d">o</text>
<text transform="matrix(1.0886 0 0 1 964.89 474.50)" font-family="Liberation Sans" font-weight="bold" font-size="35" fill="#a9251d">n</text>
<text transform="matrix(0.9806 0 0 1 989.79 474.50)" font-family="Liberation Sans" font-weight="bold" font-size="35" fill="#a9251d">a</text>
<text transform="matrix(0.1874 0 0 0.1511 1019.71 459.55)" font-family="Liberation Sans" font-weight="bold" font-size="100" fill="#a9251d">€</text>
<line x1="787.5" y1="486.5" x2="787.5" y2="493" stroke="#808080" stroke-width="1.0"/>
<line x1="787.0" y1="493" x2="800.4" y2="493" stroke="#808080" stroke-width="1.0"/>
<text transform="matrix(1.0400 0 0 1 805.21 498.00)" font-size="11.6" letter-spacing="0.127"><tspan font-family="Liberation Sans" font-weight="normal" fill="#6e6e6e">zaradi </tspan><tspan font-family="Liberation Sans" font-weight="bold" fill="#8f2a28">phishing zlorab v elektronskem bančništvu</tspan></text>
<polyline points="1102.2,77.6 1243.6,77.6 1243.6,234.3" fill="none" stroke="#c4c4c4" stroke-width="1.1"/>
<line x1="1243.6" y1="336" x2="1243.6" y2="495.6" stroke="#c4c4c4" stroke-width="1.1"/>
<line x1="1102.8" y1="495.6" x2="1244.1" y2="495.6" stroke="#5e5e5e" stroke-width="1.2"/>
<polygon points="1243.5,251.2 1269.8,265.4 1269.8,297.8 1243.5,312.5 1216.8,297.8 1216.8,265.4" fill="#f2c517" stroke="#3a3320" stroke-width="0.9"/>
<clipPath id="hx"><polygon points="1243.5,251.2 1269.8,265.4 1269.8,297.8 1243.5,312.5 1216.8,297.8 1216.8,265.4"/></clipPath>
<path d="M1263.4,283.5L1274.4,284.3M1262.9,286.6L1273.6,289.1M1262.0,289.6L1272.1,293.8M1260.6,292.3L1269.9,298.1M1258.7,294.9L1267.1,302.0M1256.5,297.1L1263.6,305.5M1253.9,299.0L1259.7,308.3M1251.2,300.4L1255.4,310.5M1248.2,301.3L1250.7,312.0M1245.1,301.8L1245.9,312.8M1241.9,301.8L1241.1,312.8M1238.8,301.3L1236.3,312.0M1235.8,300.4L1231.6,310.5M1233.1,299.0L1227.3,308.3M1230.5,297.1L1223.4,305.5M1228.3,294.9L1219.9,302.0M1226.4,292.3L1217.1,298.1M1225.0,289.6L1214.9,293.8M1224.1,286.6L1213.4,289.1M1223.6,283.5L1212.6,284.3M1223.6,280.3L1212.6,279.5M1224.1,277.2L1213.4,274.7M1225.0,274.2L1214.9,270.0M1226.4,271.5L1217.1,265.7M1228.3,268.9L1219.9,261.8M1230.5,266.7L1223.4,258.3M1233.1,264.8L1227.3,255.5M1235.8,263.4L1231.6,253.3M1238.8,262.5L1236.3,251.8M1241.9,262.0L1241.1,251.0M1245.1,262.0L1245.9,251.0M1248.2,262.5L1250.7,251.8M1251.2,263.4L1255.4,253.3M1253.9,264.8L1259.7,255.5M1256.5,266.7L1263.6,258.3M1258.7,268.9L1267.1,261.8M1260.6,271.5L1269.9,265.7M1262.0,274.2L1272.1,270.0M1262.9,277.2L1273.6,274.7M1263.4,280.3L1274.4,279.5" stroke="#8f7212" stroke-width="0.55" fill="none" clip-path="url(#hx)"/>
<circle cx="1243.5" cy="281.9" r="19.6" fill="#1a2566" stroke="#2a2a40" stroke-width="0.5"/>
<path d="M1236.3000000000002,273.09999999999997 L1251.5,273.09999999999997 L1251.5,282.9 Q1250.4,289.4 1243.9,292.59999999999997 Q1237.4,289.4 1236.3000000000002,282.9Z" fill="#2f46a0" stroke="#a83048" stroke-width="1.1"/>
<path d="M1238.7,286.4 L1241.7,282.4 L1243.9,279.4 L1246.1000000000001,282.4 L1249.1000000000001,286.4 Q1247.9,289.4 1243.9,291.2 Q1239.9,289.4 1238.7,286.4Z" fill="#ffffff"/>
<path d="M1240.9,287.09999999999997 h2 M1244.9,287.09999999999997 h2" stroke="#2f46a0" stroke-width="0.9"/>
<circle cx="1243.9" cy="275.59999999999997" r="0.6" fill="#f0d040"/><circle cx="1242.1000000000001" cy="277.29999999999995" r="0.55" fill="#f0d040"/><circle cx="1245.7" cy="277.29999999999995" r="0.55" fill="#f0d040"/>
<path d="M1231.5,283.4 Q1232.0,289.9 1238.0,294.4" stroke="#2f7f3f" stroke-width="1.0" fill="none"/>
<ellipse cx="1232.2" cy="285.1" rx="2.3" ry="0.95" fill="#3b9a4c" transform="rotate(35 1232.2 285.1)"/>
<ellipse cx="1232.9" cy="288.1" rx="2.3" ry="0.95" fill="#3b9a4c" transform="rotate(15 1232.9 288.1)"/>
<ellipse cx="1234.5" cy="290.7" rx="2.3" ry="0.95" fill="#3b9a4c" transform="rotate(-10 1234.5 290.7)"/>
<ellipse cx="1236.5" cy="292.7" rx="2.3" ry="0.95" fill="#3b9a4c" transform="rotate(-30 1236.5 292.7)"/>
<path d="M1255.5,283.4 Q1255.0,289.9 1249.0,294.4" stroke="#2f7f3f" stroke-width="1.0" fill="none"/>
<ellipse cx="1254.8" cy="285.1" rx="2.3" ry="0.95" fill="#3b9a4c" transform="rotate(-35 1254.8 285.1)"/>
<ellipse cx="1254.1" cy="288.1" rx="2.3" ry="0.95" fill="#3b9a4c" transform="rotate(-15 1254.1 288.1)"/>
<ellipse cx="1252.5" cy="290.7" rx="2.3" ry="0.95" fill="#3b9a4c" transform="rotate(10 1252.5 290.7)"/>
<ellipse cx="1250.5" cy="292.7" rx="2.3" ry="0.95" fill="#3b9a4c" transform="rotate(30 1250.5 292.7)"/>
<path id="arcT" d="M1228.5,286.9 A15.8,15.8 0 1 1 1258.5,286.9" fill="none"/>
<text font-family="Liberation Sans" font-weight="bold" font-size="3.5" fill="#d9c25a" letter-spacing="0.2" text-anchor="middle"><textPath href="#arcT" startOffset="50%">REPUBLIKA SLOVENIJA</textPath></text>
<path id="arcB" d="M1226.3,285.9 A17.6,17.6 0 0 0 1260.7,285.9" fill="none"/>
<text font-family="Liberation Sans" font-weight="bold" font-size="4.6" fill="#f2d23c" letter-spacing="0.3" text-anchor="middle"><textPath href="#arcB" startOffset="50%">POLICIJA</textPath></text>
<circle cx="755.3" cy="585.2" r="7.2" fill="#9b9b9b"/>
<path d="M748.5,595.5 Q756,596 762.2,591.5 Q764,603 757,612 Q753,616.5 748.5,618 Z" fill="#9b9b9b"/>
<path d="M747.5,598.6 Q757,598.5 762.5,593.2" stroke="#fff" stroke-width="1.2" fill="none"/>
<path d="M747.5,602.6 Q757,602.5 762.8,596.5" stroke="#fff" stroke-width="1.2" fill="none"/>
<path d="M739.4,611 L739.4,597 L749,597 L749,599 L741.4,599 L741.4,611Z" fill="#9b9b9b"/>
<path d="M743.9,614.5 L743.9,600.6 L749,600.6 L749,602.6 L745.9,602.6 L745.9,614.5Z" fill="#9b9b9b"/>
<text transform="matrix(1.0000 0 0 1 777.12 596.30)" font-family="Liberation Sans" font-weight="normal" font-size="8.5" fill="#9a9a9a" letter-spacing="0.044">INFORMACIJSKI</text>
<text transform="matrix(1.0000 0 0 1 777.20 607.40)" font-family="Liberation Sans" font-weight="normal" font-size="8.5" fill="#9a9a9a" letter-spacing="-0.196">POOBLAŠČENEC</text>
<line x1="856.2" y1="599.3" x2="885.6" y2="599.3" stroke="#d0d0d0" stroke-width="1.0"/>
<line x1="910.7" y1="554.3" x2="910.7" y2="561.8" stroke="#bbb" stroke-width="1.0"/>
<text transform="matrix(1.0800 0 0 1 925.12 557.00)" font-family="Liberation Sans" font-weight="normal" font-size="10.8" fill="#6e6e6e" letter-spacing="0.031">Informacijski pooblaščenec prejme</text>
<text stroke="#a9251d" stroke-width="4.2" stroke-linejoin="round" transform="matrix(0.2941 0 0 0.2460 902.32 588.95)" font-family="Liberation Mono" font-weight="normal" font-size="100" fill="#a9251d">1</text>
<text stroke="#a9251d" stroke-width="4.2" stroke-linejoin="round" transform="matrix(0.3174 0 0 0.3178 923.07 595.34)" font-family="Liberation Mono" font-weight="normal" font-size="100" fill="#a9251d">8</text>
<text stroke="#a9251d" stroke-width="4.2" stroke-linejoin="round" transform="matrix(0.3164 0 0 0.3178 943.25 595.34)" font-family="Liberation Mono" font-weight="normal" font-size="100" fill="#a9251d">3</text>
<text transform="matrix(1.0686 0 0 1 973.83 589.90)" font-family="Liberation Sans" font-weight="bold" font-size="31.2" fill="#a9251d">u</text>
<text transform="matrix(1.1443 0 0 1 994.15 589.90)" font-family="Liberation Sans" font-weight="bold" font-size="31.2" fill="#a9251d">r</text>
<text transform="matrix(0.9017 0 0 1 1009.08 589.90)" font-family="Liberation Sans" font-weight="bold" font-size="31.2" fill="#a9251d">a</text>
<text transform="matrix(0.9922 0 0 1 1028.33 589.90)" font-family="Liberation Sans" font-weight="bold" font-size="31.2" fill="#a9251d">d</text>
<text transform="matrix(1.0022 0 0 1 1049.54 589.90)" font-family="Liberation Sans" font-weight="bold" font-size="31.2" fill="#a9251d">n</text>
<text transform="matrix(1.2381 0 0 1 1072.10 589.90)" font-family="Liberation Sans" font-weight="bold" font-size="31.2" fill="#a9251d">i</text>
<text transform="matrix(1.0438 0 0 1 1083.63 589.90)" font-family="Liberation Sans" font-weight="bold" font-size="31.2" fill="#a9251d">h</text>
<text transform="matrix(0.9386 0 0 1 1113.16 589.90)" font-family="Liberation Sans" font-weight="bold" font-size="31.2" fill="#a9251d">o</text>
<text transform="matrix(1.0177 0 0 1 1132.91 589.90)" font-family="Liberation Sans" font-weight="bold" font-size="31.2" fill="#a9251d">b</text>
<text transform="matrix(1.0706 0 0 1 1152.77 589.90)" font-family="Liberation Sans" font-weight="bold" font-size="31.2" fill="#a9251d">v</text>
<text transform="matrix(1.0420 0 0 1 1172.23 589.90)" font-family="Liberation Sans" font-weight="bold" font-size="31.2" fill="#a9251d">e</text>
<text transform="matrix(1.0083 0 0 1 1190.99 589.90)" font-family="Liberation Sans" font-weight="bold" font-size="31.2" fill="#a9251d">s</text>
<text transform="matrix(1.3294 0 0 1 1208.39 589.90)" font-family="Liberation Sans" font-weight="bold" font-size="31.2" fill="#a9251d">t</text>
<text transform="matrix(1.2147 0 0 1 1225.45 589.90)" font-family="Liberation Sans" font-weight="bold" font-size="31.2" fill="#a9251d">i</text>
<text transform="matrix(1.2147 0 0 1 1238.25 589.90)" font-family="Liberation Sans" font-weight="bold" font-size="31.2" fill="#a9251d">l</text>
<rect x="1071.80" y="573.43" width="3.20" height="3.00" fill="#a9251d"/>
<rect x="1225.10" y="573.43" width="3.20" height="3.00" fill="#a9251d"/>
<rect x="1237.90" y="567.28" width="3.20" height="3.00" fill="#a9251d"/>
<text transform="matrix(0.9446 0 0 1 902.55 623.30)" font-family="Liberation Sans" font-weight="bold" font-size="31.2" fill="#a9251d">o</text>
<text transform="matrix(1.1510 0 0 1 931.89 623.30)" font-family="Liberation Sans" font-weight="bold" font-size="31.2" fill="#a9251d">k</text>
<text transform="matrix(1.0819 0 0 1 951.97 623.30)" font-family="Liberation Sans" font-weight="bold" font-size="31.2" fill="#a9251d">r</text>
<text transform="matrix(1.0083 0 0 1 966.39 623.30)" font-family="Liberation Sans" font-weight="bold" font-size="31.2" fill="#a9251d">š</text>
<text transform="matrix(1.2147 0 0 1 986.35 623.30)" font-family="Liberation Sans" font-weight="bold" font-size="31.2" fill="#a9251d">i</text>
<text transform="matrix(1.3294 0 0 1 998.29 623.30)" font-family="Liberation Sans" font-weight="bold" font-size="31.2" fill="#a9251d">t</text>
<text transform="matrix(1.1233 0 0 1 1013.16 623.30)" font-family="Liberation Sans" font-weight="bold" font-size="31.2" fill="#a9251d">v</text>
<text transform="matrix(1.2147 0 0 1 1034.45 623.30)" font-family="Liberation Sans" font-weight="bold" font-size="31.2" fill="#a9251d">i</text>
<text transform="matrix(1.0531 0 0 1 1056.07 623.30)" font-family="Liberation Sans" font-weight="bold" font-size="31.2" fill="#a9251d">v</text>
<text transform="matrix(0.8716 0 0 1 1075.20 623.30)" font-family="Liberation Sans" font-weight="bold" font-size="31.2" fill="#a9251d">a</text>
<text transform="matrix(1.0195 0 0 1 1094.20 623.30)" font-family="Liberation Sans" font-weight="bold" font-size="31.2" fill="#a9251d">r</text>
<text transform="matrix(1.0420 0 0 1 1109.76 623.30)" font-family="Liberation Sans" font-weight="bold" font-size="31.2" fill="#a9251d">n</text>
<text transform="matrix(0.9386 0 0 1 1130.56 623.30)" font-family="Liberation Sans" font-weight="bold" font-size="31.2" fill="#a9251d">o</text>
<text transform="matrix(1.0083 0 0 1 1149.69 623.30)" font-family="Liberation Sans" font-weight="bold" font-size="31.2" fill="#a9251d">s</text>
<text transform="matrix(1.3294 0 0 1 1167.09 623.30)" font-family="Liberation Sans" font-weight="bold" font-size="31.2" fill="#a9251d">t</text>
<text transform="matrix(1.2147 0 0 1 1184.85 623.30)" font-family="Liberation Sans" font-weight="bold" font-size="31.2" fill="#a9251d">i</text>
<rect x="986.00" y="606.83" width="3.20" height="3.00" fill="#a9251d"/>
<rect x="1034.10" y="606.83" width="3.20" height="3.00" fill="#a9251d"/>
<rect x="1184.50" y="606.83" width="3.20" height="3.00" fill="#a9251d"/>
<text transform="matrix(1.0000 0 0 1 931.21 636.40)" font-family="Liberation Sans" font-weight="normal" font-size="6.3" fill="#888" letter-spacing="0.310">(Data Breach Notification)</text>
</svg></div>
</body></html>
